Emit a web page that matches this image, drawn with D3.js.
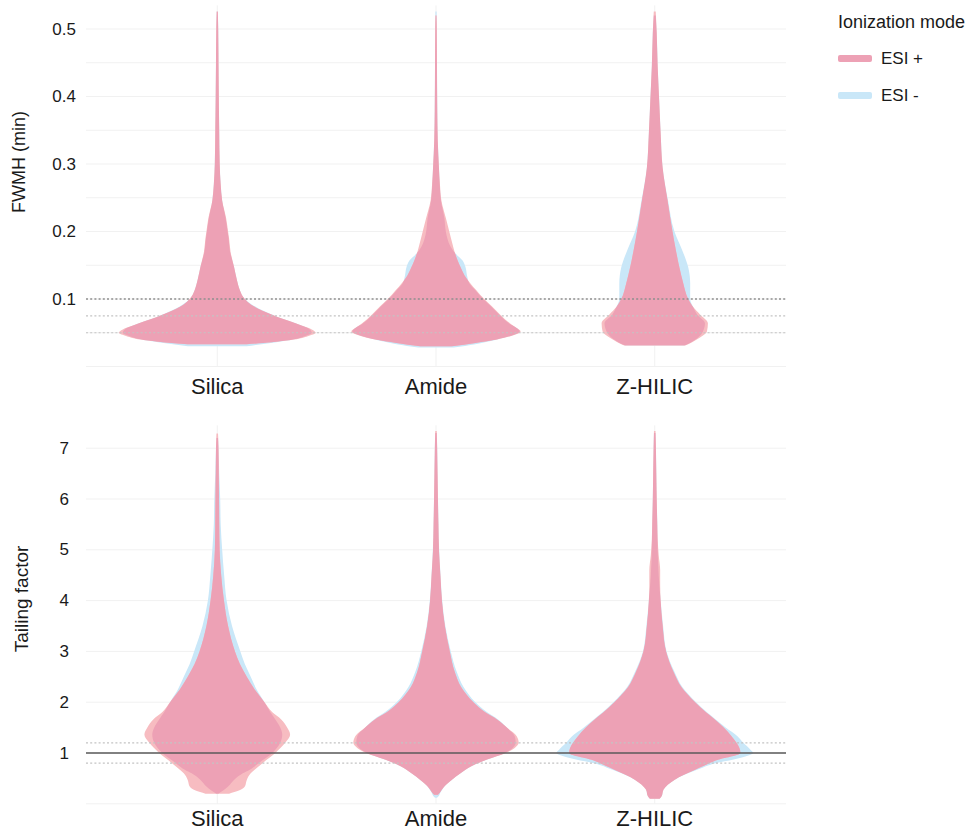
<!DOCTYPE html>
<html>
<head>
<meta charset="utf-8">
<script src="https://cdn.jsdelivr.net/npm/d3@7"></script>
<style>
  html, body { margin: 0; padding: 0; background: #ffffff; }
  svg { display: block; font-family: "Liberation Sans", Arial, sans-serif; }
</style>
</head>
<body>
<svg id="chart" width="973" height="832"></svg>
<script>
// ---- data -------------------------------------------------------------
const categories = ["Silica", "Amide", "Z-HILIC"];
const modes = ["ESI +", "ESI -"];

// FWHM panel
const fwhmTicks = [0.1, 0.2, 0.3, 0.4, 0.5];
const fwhmGrid = [0, 0.05, 0.1, 0.15, 0.2, 0.25, 0.3, 0.35, 0.4, 0.45, 0.5];
const fwhmMainRef = [0.1];
const fwhmMinorRef = [0.075, 0.05];

// Tailing factor panel
const tailingTicks = [1, 2, 3, 4, 5, 6, 7];
const tailingGrid = [0, 1, 2, 3, 4, 5, 6, 7];
const tailingTarget = [1];
const tailingLimits = [1.2, 0.8];

// violin profiles: [value, scaled density (0-100)]
const fwhmSilicaPos = [[0.033,30],[0.036,55],[0.04,78],[0.045,92],[0.05,100],[0.055,96],[0.061,85],[0.067,74],[0.073,62],[0.08,50],[0.086,41],[0.092,34],[0.1,28],[0.113,23],[0.128,20],[0.148,17],[0.17,13.5],[0.19,12],[0.2,11],[0.22,9],[0.246,5],[0.27,3.5],[0.3,2.5],[0.35,2],[0.4,1.6],[0.45,1.3],[0.5,1],[0.526,0.6]];
const fwhmSilicaNeg = [[0.03,30],[0.033,45],[0.036,60],[0.04,77],[0.045,89],[0.05,96],[0.055,94],[0.061,85],[0.067,74],[0.073,62],[0.08,51],[0.086,42],[0.092,35],[0.1,28],[0.113,23],[0.128,20],[0.148,17],[0.17,13],[0.19,11.5],[0.2,10.5],[0.22,8.5],[0.246,5],[0.27,3.5],[0.3,2.5],[0.35,2],[0.4,1.6],[0.45,1.3],[0.5,1],[0.526,0.6]];
const fwhmAmidePos = [[0.03,16],[0.035,40],[0.04,62],[0.046,78],[0.052,86],[0.057,82],[0.063,76],[0.07,70],[0.077,65],[0.089,57],[0.1,49],[0.113,41],[0.123,35],[0.135,29],[0.147,25],[0.157,22],[0.167,19.5],[0.18,17],[0.2,13.5],[0.22,10],[0.246,5.5],[0.27,4],[0.295,3],[0.335,1.8],[0.38,1.3],[0.45,1],[0.5,0.8],[0.52,0.5]];
const fwhmAmideNeg = [[0.028,18],[0.033,40],[0.04,62],[0.046,77],[0.052,85],[0.057,82],[0.063,75],[0.07,69],[0.077,64],[0.089,56],[0.1,48],[0.113,40],[0.123,34],[0.135,31.5],[0.147,30],[0.157,27],[0.167,20],[0.177,15],[0.19,11.5],[0.2,10],[0.22,8.5],[0.246,5],[0.27,3.8],[0.295,3],[0.335,1.8],[0.38,1.3],[0.45,1],[0.5,0.8],[0.526,0.6]];
const fwhmZhilicPos = [[0.031,31],[0.036,38],[0.043,46],[0.052,53],[0.064,54],[0.077,46],[0.088,39],[0.1,34],[0.123,29],[0.147,25],[0.172,21.5],[0.2,18],[0.246,13],[0.295,8],[0.346,6],[0.395,4.5],[0.444,3],[0.494,2],[0.526,1]];
const fwhmZhilicNeg = [[0.031,30],[0.036,37],[0.043,44],[0.052,49],[0.064,51],[0.077,43],[0.088,39],[0.1,36],[0.123,36],[0.147,34],[0.172,28],[0.2,20],[0.246,13.5],[0.295,8],[0.346,6],[0.395,4.5],[0.444,3],[0.494,2],[0.52,1]];

const tailSilicaPos = [[0.2,12],[0.26,22],[0.34,28],[0.47,30],[0.6,34],[0.67,38],[0.8,46],[1.0,59],[1.2,69],[1.36,74],[1.5,71],[1.66,65],[1.8,56],[2.0,48],[2.25,38],[2.5,30],[2.75,23],[3.0,18],[3.5,11],[4.0,6.8],[4.5,4],[5.0,2.4],[5.5,2],[6.0,1.8],[6.5,1.5],[7.0,1.3],[7.29,0.8]];
const tailSilicaNeg = [[0.2,1],[0.26,6],[0.34,11],[0.47,17],[0.6,26],[0.67,33],[0.8,42],[1.0,56],[1.2,64],[1.36,66],[1.5,64],[1.66,59],[1.8,54],[2.0,48],[2.25,40],[2.5,34],[2.75,28],[3.0,23.5],[3.5,15],[4.0,9.5],[4.5,7],[5.0,5],[5.5,3.5],[6.0,3],[6.5,2],[7.0,1.3],[7.2,0.8]];
const tailAmidePos = [[0.18,2],[0.22,4],[0.28,6],[0.35,9],[0.47,16],[0.6,25],[0.74,36],[0.87,52],[1.0,71],[1.1,80],[1.2,84],[1.33,82],[1.5,72],[1.66,62],[1.8,50],[2.0,38],[2.3,25.5],[2.6,19],[3.0,14],[3.5,9],[4.0,6],[4.5,4.5],[5.0,3],[5.5,2.5],[6.0,2],[6.5,1.6],[7.0,1.2],[7.34,0.8]];
const tailAmideNeg = [[0.12,1],[0.16,3],[0.22,4.5],[0.28,6.5],[0.35,9],[0.47,16],[0.6,25],[0.74,36],[0.87,52],[1.0,70],[1.1,78],[1.2,81],[1.33,80],[1.5,72],[1.66,63],[1.8,52],[2.0,40],[2.3,28],[2.6,21],[3.0,15],[3.5,9.5],[4.0,6.3],[4.5,4.6],[5.0,3.2],[5.5,2.5],[6.0,2],[6.5,1.6],[7.0,1.2],[7.3,0.8]];
const tailZhilicPos = [[0.1,5],[0.15,7],[0.28,9],[0.47,20],[0.67,41],[0.87,65],[1.0,87],[1.1,86],[1.2,83],[1.33,78],[1.5,70],[1.66,61],[1.8,52],[2.0,41],[2.3,27],[2.6,19],[3.0,11.5],[3.5,8],[4.0,6],[4.3,5.5],[4.6,5.5],[4.9,4],[5.2,3],[5.5,2.6],[6.0,2],[6.5,1.6],[7.0,1.2],[7.34,0.8]];
const tailZhilicNeg = [[0.1,5],[0.15,7],[0.28,9],[0.47,20],[0.67,43],[0.8,62],[0.87,80],[0.95,95],[1.0,100],[1.07,97],[1.2,90],[1.33,84],[1.5,72],[1.66,62],[1.8,53],[2.0,42],[2.3,28],[2.6,20],[3.0,12],[3.5,8.5],[4.0,6],[4.5,4],[5.0,3],[5.5,2.6],[6.0,2],[6.5,1.6],[7.0,1.2],[7.3,0.8]];

// ---- styles ------------------------------------------------------------
const colorPosOnly = "#f7bcc1";
const colorNegOnly = "#c9e7f8";
const colorBoth = "#eda1b5";
const gridColor = "#f1f1f1";

// ---- layout ------------------------------------------------------------
const svg = d3.select("#chart");
const xLeft = 86, xRight = 786;

const x = d3.scalePoint().domain(categories).range([xLeft, xRight]).padding(0.6);
const halfWidth = d3.scaleLinear().domain([0, 100]).range([0, 0.45 * x.step()]);

const panels = [
  {
    key: "fwhm",
    y: d3.scaleLinear().domain([0, 0.5]).range([366.5, 29]),
    top: 0.535,
    grid: fwhmGrid,
    ticks: fwhmTicks,
    tickFmt: d3.format(".1f"),
    tickX: 76,
    title: "FWMH (min)",
    titleX: 19, titleY: 162, titleSize: 18,
    labelY: 394,
    profiles: [[fwhmSilicaPos, fwhmSilicaNeg], [fwhmAmidePos, fwhmAmideNeg], [fwhmZhilicPos, fwhmZhilicNeg]],
    refs: [
      { values: fwhmMainRef, stroke: "#8e8e8e", dash: "2,2.2", width: 1.3 },
      { values: fwhmMinorRef, stroke: "#c4c4c4", dash: "2,2.2", width: 1.2 }
    ]
  },
  {
    key: "tail",
    y: d3.scaleLinear().domain([0, 7]).range([803.8, 448.2]),
    top: 7.45,
    grid: tailingGrid,
    ticks: tailingTicks,
    tickFmt: d3.format("d"),
    tickX: 69,
    title: "Tailing factor",
    titleX: 21, titleY: 599, titleSize: 19,
    labelY: 826,
    profiles: [[tailSilicaPos, tailSilicaNeg], [tailAmidePos, tailAmideNeg], [tailZhilicPos, tailZhilicNeg]],
    refs: [
      { values: tailingLimits, stroke: "#c4c4c4", dash: "2,2.2", width: 1.2 },
      { values: tailingTarget, stroke: "#5a5a5a", dash: null, width: 1.6 }
    ]
  }
];

panels.forEach(p => {
  const g = svg.append("g").attr("class", "panel-" + p.key);
  const y = p.y;
  const yTop = y(p.top), yBottom = y(0);

  // gridlines
  g.append("g").selectAll("line.h").data(p.grid).join("line")
    .attr("x1", xLeft).attr("x2", xRight)
    .attr("y1", d => y(d)).attr("y2", d => y(d))
    .attr("stroke", gridColor).attr("stroke-width", 1);
  g.append("g").selectAll("line.v").data(categories).join("line")
    .attr("x1", d => x(d)).attr("x2", d => x(d))
    .attr("y1", yTop).attr("y2", yBottom)
    .attr("stroke", gridColor).attr("stroke-width", 1);

  // violins: ESI - underneath, ESI + on top, their overlap in the shared colour
  categories.forEach((cat, i) => {
    const cx = x(cat);
    const area = d3.area()
      .curve(d3.curveMonotoneY)
      .y(d => y(d[0]))
      .x0(d => cx - halfWidth(d[1]))
      .x1(d => cx + halfWidth(d[1]));
    const [pos, neg] = p.profiles[i];
    const clipId = `clip-${p.key}-${i}`;
    g.append("clipPath").attr("id", clipId)
      .append("path").attr("d", area(neg));
    const vg = g.append("g").attr("class", "violin");
    vg.append("path").attr("d", area(neg)).attr("fill", colorNegOnly);
    vg.append("path").attr("d", area(pos)).attr("fill", colorPosOnly);
    vg.append("path").attr("d", area(pos)).attr("fill", colorBoth)
      .attr("clip-path", `url(#${clipId})`);
  });

  // reference lines
  p.refs.forEach(r => {
    g.append("g").selectAll("line").data(r.values).join("line")
      .attr("x1", xLeft).attr("x2", xRight)
      .attr("y1", d => y(d)).attr("y2", d => y(d))
      .attr("stroke", r.stroke).attr("stroke-width", r.width)
      .attr("stroke-dasharray", r.dash);
  });

  // y tick labels
  g.append("g").selectAll("text").data(p.ticks).join("text")
    .attr("x", p.tickX).attr("y", d => y(d))
    .attr("text-anchor", "end").attr("dominant-baseline", "central")
    .attr("font-size", 17).attr("fill", "#1a1a1a")
    .text(d => p.tickFmt(d));

  // category labels
  g.append("g").selectAll("text").data(categories).join("text")
    .attr("x", d => x(d)).attr("y", p.labelY)
    .attr("text-anchor", "middle")
    .attr("font-size", 22).attr("fill", "#1a1a1a")
    .text(d => d);

  // axis title
  g.append("text")
    .attr("transform", `translate(${p.titleX},${p.titleY}) rotate(-90)`)
    .attr("text-anchor", "middle").attr("dominant-baseline", "central")
    .attr("font-size", p.titleSize).attr("fill", "#1a1a1a")
    .text(p.title);
});

// ---- legend ------------------------------------------------------------
const legend = svg.append("g").attr("class", "legend");
legend.append("text")
  .attr("x", 838).attr("y", 28)
  .attr("font-size", 18).attr("fill", "#1a1a1a")
  .text("Ionization mode");
const legendColors = [colorBoth, colorNegOnly];
const legendY = d3.scalePoint().domain(modes).range([58.5, 95.5]);
legend.selectAll("rect").data(modes).join("rect")
  .attr("x", 838).attr("y", d => legendY(d) - 3.5)
  .attr("width", 34).attr("height", 7).attr("rx", 2)
  .attr("fill", (d, i) => legendColors[i]);
legend.selectAll("text.item").data(modes).join("text")
  .attr("class", "item")
  .attr("x", 881).attr("y", d => legendY(d))
  .attr("dominant-baseline", "central")
  .attr("font-size", 17).attr("fill", "#1a1a1a")
  .text(d => d);
</script>
</body>
</html>
